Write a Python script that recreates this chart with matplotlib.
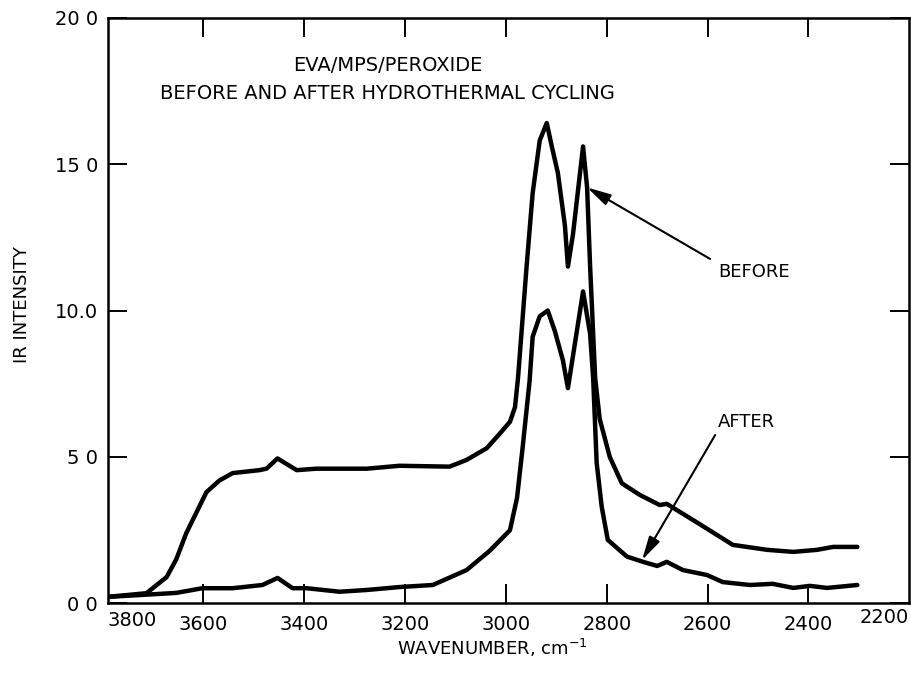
import matplotlib.pyplot as plt
import matplotlib.transforms as mtransforms

# wavenumber / intensity
before_x = [3793, 3713, 3673, 3654, 3634, 3614, 3594, 3568, 3542, 3489, 3475, 3453,
            3415, 3376, 3276, 3211, 3112, 3078, 3038, 3012, 2992, 2982, 2976, 2959,
            2947, 2933, 2919, 2909, 2897, 2883, 2877, 2867, 2853, 2847, 2839, 2833,
            2823, 2814, 2794, 2770, 2734, 2695, 2681, 2615, 2550, 2482, 2430, 2383,
            2351, 2303]
before_y = [0.22, 0.35, 0.9, 1.5, 2.4, 3.1, 3.8, 4.2, 4.45, 4.55, 4.6, 4.95,
            4.55, 4.6, 4.6, 4.7, 4.67, 4.9, 5.3, 5.8, 6.2, 6.7, 7.7, 11.5,
            14.0, 15.8, 16.4, 15.6, 14.7, 12.9, 11.5, 12.6, 14.7, 15.6, 14.2, 11.5,
            7.7, 6.3, 5.0, 4.1, 3.7, 3.36, 3.4, 2.7, 2.0, 1.83, 1.76, 1.83,
            1.93, 1.93]

after_x = [3793, 3713, 3654, 3602, 3542, 3483, 3453, 3423, 3395, 3330, 3276, 3211,
           3145, 3078, 3032, 2992, 2978, 2967, 2953, 2947, 2933, 2917, 2903, 2887,
           2877, 2847, 2833, 2827, 2820, 2810, 2798, 2760, 2728, 2700, 2681, 2649,
           2601, 2570, 2516, 2471, 2430, 2397, 2363, 2303]
after_y = [0.22, 0.3, 0.36, 0.52, 0.52, 0.63, 0.87, 0.52, 0.52, 0.4, 0.46, 0.56,
           0.63, 1.14, 1.8, 2.5, 3.6, 5.3, 7.6, 9.1, 9.8, 10.0, 9.3, 8.3,
           7.35, 10.65, 9.2, 7.7, 4.8, 3.3, 2.17, 1.6, 1.42, 1.28, 1.42, 1.14,
           0.97, 0.73, 0.63, 0.67, 0.53, 0.6, 0.53, 0.63]

x_ticks = [3600, 3400, 3200, 3000, 2800, 2600, 2400]
x_labels = ["3600", "3400", "3200", "3000", "2800", "2600", "2400"]
y_ticks = [0, 5, 10, 15, 20]
y_labels = ["0 0", "5 0", "10.0", "15 0", "20 0"]

fig = plt.figure(figsize=(9.12, 6.75), dpi=100)
ax = fig.add_axes([0.118, 0.106, 0.879, 0.868])

ax.plot(before_x, before_y, color="black", lw=3.2,
        solid_capstyle="round", solid_joinstyle="round")
ax.plot(after_x, after_y, color="black", lw=3.2,
        solid_capstyle="round", solid_joinstyle="round")

ax.set_xlim(3790, 2200)
ax.set_ylim(0, 20)

ax.set_xticks(x_ticks)
ax.set_xticklabels(x_labels)
ax.set_yticks(y_ticks)
ax.set_yticklabels(y_labels)
ax.tick_params(direction="in", length=14, width=1.4, labelsize=14,
               top=True, right=True)
ax.tick_params(axis="x", pad=8)
ax.tick_params(axis="y", pad=7)
for s in ax.spines.values():
    s.set_linewidth(1.8)

# edge labels sit inside the frame
trans = mtransforms.blended_transform_factory(ax.transAxes, ax.transAxes)
ax.text(0.0, -0.013, "3800", transform=trans, ha="left", va="top", fontsize=14)
ax.text(1.0, -0.008, "2200", transform=trans, ha="right", va="top", fontsize=14)

ax.set_ylabel("IR INTENSITY", fontsize=13)
ax.yaxis.set_label_coords(-0.095, 0.51)
fig.text(0.54, 0.04, "WAVENUMBER, cm$^{-1}$", ha="center", va="center", fontsize=13)

# header text
ax.text(3235, 18.38, "EVA/MPS/PEROXIDE", ha="center", va="center", fontsize=14)
ax.text(3235, 17.42, "BEFORE AND AFTER HYDROTHERMAL CYCLING",
        ha="center", va="center", fontsize=14)

# arrows
arrow = dict(arrowstyle="-|>,head_length=0.8,head_width=0.2", color="black",
             lw=1.5, mutation_scale=18, shrinkA=0, shrinkB=0)
ax.annotate("", xy=(2839, 14.2), xytext=(2595, 11.76), arrowprops=arrow)
ax.text(2579, 11.3, "BEFORE", ha="left", va="center", fontsize=13)

ax.annotate("", xy=(2730, 1.48), xytext=(2585, 5.75), arrowprops=arrow)
ax.text(2579, 6.2, "AFTER", ha="left", va="center", fontsize=13)

fig.savefig("out.png", dpi=100)
